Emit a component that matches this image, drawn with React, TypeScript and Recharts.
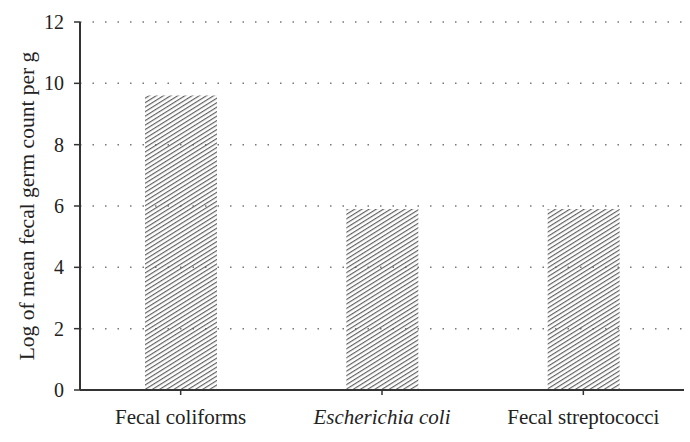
import { Bar, BarChart, CartesianGrid, XAxis, YAxis } from "recharts";

const categories = ["Fecal coliforms", "Escherichia coli", "Fecal streptococci"];
const meanLogCount = [9.6, 5.9, 5.9];
const yTicks = [0, 2, 4, 6, 8, 10, 12];
const gridValues = [2, 4, 6, 8, 10, 12];
const italicLabels = ["Escherichia coli"];
const yLabel = "Log of mean fecal germ count per g";

const data = categories.map((name, i) => ({ name, value: meanLogCount[i] }));

const FONT = "'Liberation Serif', 'DejaVu Serif', serif";

function CategoryTick(props: any) {
  const { x, y, payload } = props;
  const italic = italicLabels.includes(payload.value);
  return (
    <text
      x={x}
      y={y + 27}
      textAnchor="middle"
      fontFamily={FONT}
      fontSize={21}
      fontStyle={italic ? "italic" : "normal"}
      fill="#222"
    >
      {payload.value}
    </text>
  );
}

function YLabel(props: any) {
  const vb = props.viewBox || {};
  const cy = (vb.y ?? 22) + (vb.height ?? 368) / 2;
  const cx = 34;
  return (
    <text
      x={cx}
      y={cy}
      transform={`rotate(-90, ${cx}, ${cy})`}
      textAnchor="middle"
      fontFamily={FONT}
      fontSize={21.5}
      fill="#222"
    >
      {yLabel}
    </text>
  );
}

export default function App() {
  return (
    <div style={{ position: "absolute", left: 0, top: 0, background: "#fff" }}>
      <BarChart
        width={690}
        height={442}
        data={data}
        margin={{ top: 22, right: 6, bottom: 0, left: 20 }}
        barSize={72}
      >
        <defs>
          <pattern
            id="hatch"
            patternUnits="userSpaceOnUse"
            width="3.8"
            height="3.8"
            patternTransform="rotate(58)"
          >
            <line x1="0.6" y1="0" x2="0.6" y2="3.8" stroke="#555" strokeWidth={1.1} />
          </pattern>
        </defs>
        <CartesianGrid
          vertical={false}
          horizontalValues={gridValues}
          stroke="#777"
          strokeWidth={1.5}
          strokeDasharray="1.5 11"
        />
        <XAxis
          dataKey="name"
          height={52}
          axisLine={{ stroke: "#333", strokeWidth: 2 }}
          tickLine={{ stroke: "#333", strokeWidth: 1.5 }}
          tickSize={5}
          tick={<CategoryTick />}
          interval={0}
        />
        <YAxis
          width={60}
          domain={[0, 12]}
          ticks={yTicks}
          interval={0}
          axisLine={{ stroke: "#333", strokeWidth: 2 }}
          tickLine={{ stroke: "#333", strokeWidth: 1.5 }}
          tickSize={6}
          tickMargin={10}
          tick={{ fontFamily: FONT, fontSize: 20, fill: "#222" }}
          label={{ content: (p: any) => <YLabel {...p} /> }}
        />
        <Bar dataKey="value" fill="url(#hatch)" isAnimationActive={false} />
      </BarChart>
    </div>
  );
}
